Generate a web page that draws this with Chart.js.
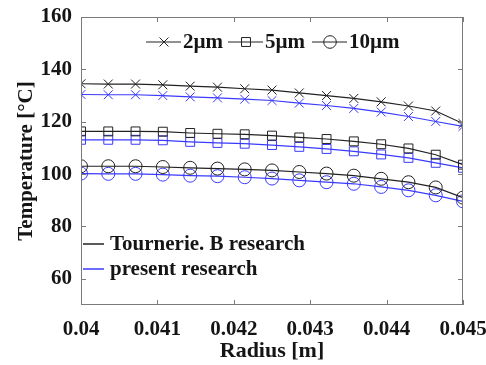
<!DOCTYPE html>
<html>
<head>
<meta charset="utf-8">
<script src="https://cdn.jsdelivr.net/npm/chart.js@4.4.1/dist/chart.umd.min.js"></script>
<style>
    html, body { margin: 0; padding: 0; background: #fff; }
    #wrap { width: 486px; height: 365px; }
</style>
</head>
<body>
<div id="wrap"><canvas id="chart"></canvas></div>
<script>
// Data
const radius = [0.04, 0.040357, 0.040714, 0.041071, 0.041429, 0.041786, 0.042143, 0.0425,
                0.042857, 0.043214, 0.043571, 0.043929, 0.044286, 0.044643, 0.045];

// Tournerie. B research (black)
const ref2um  = [134.5, 134.4, 134.4, 134.1, 133.6, 133.2, 132.6, 132.1, 131.0, 130.0, 128.9, 127.6, 126.0, 124.1, 119.3];
const ref5um  = [116.3, 116.3, 116.3, 116.2, 115.7, 115.4, 115.2, 114.7, 114.0, 113.4, 112.5, 111.4, 109.8, 107.4, 103.6];
const ref10um = [103.0, 103.0, 103.0, 102.7, 102.4, 102.1, 101.8, 101.4, 100.8, 100.2, 99.4, 98.2, 96.9, 94.9, 91.0];

// present research (blue)
const cur2um  = [130.4, 130.3, 130.3, 130.0, 129.5, 129.1, 128.6, 128.1, 127.1, 126.2, 125.1, 123.7, 122.0, 120.1, 118.2];
const cur5um  = [113.1, 113.1, 113.1, 112.9, 112.3, 111.9, 111.6, 111.1, 110.4, 109.6, 108.7, 107.5, 106.2, 104.3, 102.4];
const cur10um = [100.2, 100.1, 100.1, 99.8, 99.4, 99.2, 98.8, 98.3, 97.6, 96.9, 96.3, 95.1, 93.8, 91.9, 89.6];

const xTicks = [0.04, 0.041, 0.042, 0.043, 0.044, 0.045];
const yTicks = [60, 80, 100, 120, 140, 160];

const BLACK = '#222222';
const BLUE = '#3a3aff';
const TEXT = '#151515';
const FONT = '"Liberation Serif", "Times New Roman", serif';

function series(label, values, color, style) {
    return {
        label: label,
        data: values.map((v, i) => ({ x: radius[i], y: v })),
        borderColor: color,
        backgroundColor: 'rgba(0,0,0,0)',
        borderWidth: 1.2,
        pointStyle: style,
        pointRadius: style === 'circle' ? 6.5 : 6.3,
        pointBorderWidth: 1,
        pointBorderColor: color,
        pointBackgroundColor: 'rgba(0,0,0,0)',
        tension: 0,
        fill: false
    };
}

// Box, inward tick marks and both legends
const framePlugin = {
    id: 'frame',
    afterDraw(chart) {
        const ctx = chart.ctx;
        const a = chart.chartArea;
        const xs = chart.scales.x;
        const ys = chart.scales.y;
        ctx.save();
        ctx.strokeStyle = '#7a7a7a';
        ctx.lineWidth = 1;
        ctx.strokeRect(a.left + 0.5, a.top + 0.5, a.right - a.left - 1, a.bottom - a.top - 1);
        ctx.beginPath();
        xTicks.forEach(t => {
            const px = Math.round(xs.getPixelForValue(t)) + 0.5;
            ctx.moveTo(px, a.bottom); ctx.lineTo(px, a.bottom - 5);
            ctx.moveTo(px, a.top); ctx.lineTo(px, a.top + 5);
        });
        yTicks.forEach(t => {
            const py = Math.round(ys.getPixelForValue(t)) + 0.5;
            ctx.moveTo(a.left, py); ctx.lineTo(a.left + 5, py);
            ctx.moveTo(a.right, py); ctx.lineTo(a.right - 5, py);
        });
        ctx.stroke();

        // top legend: line with marker, then label
        const items = [
            { text: '2\u00b5m', style: 'crossRot', x: 146 },
            { text: '5\u00b5m', style: 'rect', x: 228 },
            { text: '10\u00b5m', style: 'circle', x: 312 }
        ];
        const ly = 42;
        ctx.font = 'bold 21px ' + FONT;
        ctx.textBaseline = 'middle';
        ctx.textAlign = 'left';
        items.forEach(it => {
            ctx.strokeStyle = BLACK;
            ctx.fillStyle = 'rgba(0,0,0,0)';
            ctx.lineWidth = 1;
            ctx.beginPath();
            ctx.moveTo(it.x, ly); ctx.lineTo(it.x + 35, ly);
            ctx.stroke();
            Chart.helpers.drawPoint(ctx, { pointStyle: it.style, radius: 6.3, borderWidth: 1 }, it.x + 18, ly);
            ctx.fillStyle = TEXT;
            ctx.fillText(it.text, it.x + 37, ly + 1);
        });

        // bottom-left legend: line only
        const rows = [
            { text: 'Tournerie. B research', color: BLACK, y: 244 },
            { text: 'present research', color: BLUE, y: 269 }
        ];
        rows.forEach(r => {
            ctx.strokeStyle = r.color;
            ctx.lineWidth = 1.5;
            ctx.beginPath();
            ctx.moveTo(83, r.y); ctx.lineTo(104, r.y);
            ctx.stroke();
            ctx.fillStyle = TEXT;
            ctx.fillText(r.text, 110, r.y + 1);
        });
        ctx.restore();
    }
};

const ctx = document.getElementById('chart');
new Chart(ctx, {
    type: 'line',
    data: {
        datasets: [
            series('2\u00b5m ref', ref2um, BLACK, 'crossRot'),
            series('5\u00b5m ref', ref5um, BLACK, 'rect'),
            series('10\u00b5m ref', ref10um, BLACK, 'circle'),
            series('2\u00b5m', cur2um, BLUE, 'crossRot'),
            series('5\u00b5m', cur5um, BLUE, 'rect'),
            series('10\u00b5m', cur10um, BLUE, 'circle')
        ]
    },
    options: {
        responsive: true,
        maintainAspectRatio: false,
        animation: false,
        layout: { padding: { left: 0, right: 23, top: 17, bottom: 0 } },
        plugins: {
            legend: { display: false },
            tooltip: { enabled: false }
        },
        scales: {
            x: {
                type: 'linear',
                min: 0.04,
                max: 0.045,
                afterBuildTicks: s => { s.ticks = xTicks.map(v => ({ value: v })); },
                afterFit: s => { s.height = 60; s.paddingLeft = 0; s.paddingRight = 0; },
                grid: { display: false },
                border: { display: false },
                ticks: {
                    color: TEXT,
                    padding: 4,
                    maxRotation: 0,
                    font: { family: FONT, size: 21, weight: 'bold' },
                    callback: v => String(+v.toFixed(3))
                },
                title: {
                    display: true,
                    text: 'Radius [m]',
                    color: TEXT,
                    padding: { top: 0, bottom: 0 },
                    font: { family: FONT, size: 22, weight: 'bold' }
                }
            },
            y: {
                min: 50,
                max: 160,
                afterBuildTicks: s => { s.ticks = yTicks.map(v => ({ value: v })); },
                afterFit: s => { s.width = 81; s.paddingTop = 0; s.paddingBottom = 0; },
                grid: { display: false },
                border: { display: false },
                ticks: {
                    color: TEXT,
                    padding: 1,
                    font: { family: FONT, size: 21, weight: 'bold' }
                },
                title: {
                    display: true,
                    text: 'Temperature [\u00b0C]',
                    color: TEXT,
                    padding: { top: 14, bottom: 0 },
                    font: { family: FONT, size: 21, weight: 'bold' }
                }
            }
        }
    },
    plugins: [framePlugin]
});
</script>
</body>
</html>
